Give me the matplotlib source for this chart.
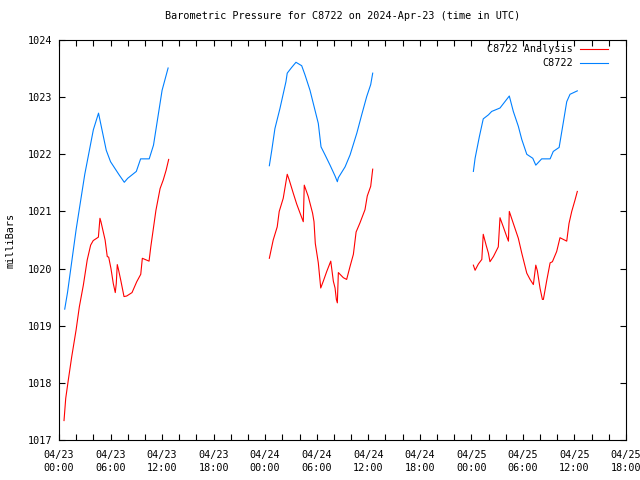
import numpy as np
import matplotlib
matplotlib.use("Agg")
import matplotlib.pyplot as plt
import matplotlib.dates as mdates

nan = np.nan

# hours since 2024-04-23 00:00 UTC; nan marks a break between runs
analysis_hours = [
    0.58, 0.78, 1.08, 1.48, 1.98, 2.36, 2.83, 3.29, 3.69, 3.99, 4.58, 4.77, 4.89,
    5.36, 5.62, 5.79, 6.05, 6.32, 6.55, 6.67, 6.79, 6.90, 7.18, 7.57, 7.88, 8.50,
    9.05, 9.51, 9.70, 10.48, 10.68, 10.98, 11.29, 11.76, 12.14, 12.46, 12.77,
    nan,
    24.48, 24.94, 25.40, 25.64, 26.10, 26.57, 26.80, 27.27, 27.67, 28.13, 28.43,
    28.55, 29.01, 29.52, 29.68, 29.83, 30.18, 30.46, 30.77, 31.16, 31.63, 31.93,
    32.13, 32.28, 32.40, 32.52, 33.10, 33.49, 33.88, 34.26, 34.58, 35.04, 35.62,
    35.89, 36.29, 36.52,
    nan,
    48.23, 48.43, 48.81, 49.21, 49.39, 49.71, 49.98, 50.17, 50.56, 51.14, 51.34,
    51.72, 52.12, 52.31, 52.42, 52.89, 53.47, 53.87, 54.45, 54.83, 55.22, 55.50,
    55.69, 56.00, 56.27, 56.38, 56.78, 57.16, 57.43, 57.94, 58.32, 59.10, 59.37,
    59.69, 60.07, 60.34,
]
analysis_mb = [
    1017.34, 1017.73, 1018.05, 1018.46, 1018.92, 1019.33, 1019.71, 1020.15,
    1020.41, 1020.49, 1020.55, 1020.88, 1020.82, 1020.50, 1020.21, 1020.20,
    1020.00, 1019.74, 1019.58, 1019.74, 1020.07, 1020.00, 1019.80, 1019.51,
    1019.52, 1019.58, 1019.77, 1019.90, 1020.18, 1020.13, 1020.38, 1020.70,
    1021.02, 1021.40, 1021.55, 1021.72, 1021.91,
    nan,
    1020.18, 1020.50, 1020.73, 1021.00, 1021.23, 1021.65, 1021.55, 1021.32,
    1021.13, 1020.94, 1020.82, 1021.46, 1021.26, 1020.97, 1020.82, 1020.44,
    1020.10, 1019.66, 1019.78, 1019.95, 1020.13, 1019.78, 1019.66, 1019.46,
    1019.40, 1019.93, 1019.84, 1019.81, 1020.04, 1020.25, 1020.64, 1020.80,
    1021.03, 1021.27, 1021.44, 1021.74,
    nan,
    1020.06, 1019.97, 1020.08, 1020.16, 1020.60, 1020.41, 1020.27, 1020.12,
    1020.21, 1020.38, 1020.89, 1020.73, 1020.56, 1020.48, 1021.00, 1020.79,
    1020.53, 1020.27, 1019.92, 1019.81, 1019.72, 1020.06, 1019.96, 1019.65,
    1019.46, 1019.46, 1019.80, 1020.10, 1020.12, 1020.30, 1020.54, 1020.48,
    1020.79, 1021.00, 1021.20, 1021.35,
]

station_hours = [
    0.66, 1.0, 2.0, 3.0, 4.0, 4.6, 5.5, 6.0, 7.0, 7.6, 8.0, 9.0, 9.5, 10.5,
    11.0, 12.0, 12.7,
    nan,
    24.48, 24.76, 25.14, 25.72, 26.42, 26.57, 27.08, 27.58, 28.25, 28.63, 29.22,
    29.80, 30.18, 30.50, 30.97, 31.55, 32.13, 32.40, 32.52, 33.30, 33.88, 34.66,
    35.24, 35.82, 36.29, 36.52,
    nan,
    48.23, 48.43, 48.93, 49.39, 49.98, 50.37, 51.34, 52.42, 52.89, 53.47, 53.87,
    54.45, 55.15, 55.50, 56.19, 57.16, 57.54, 58.21, 58.71, 59.10, 59.49, 60.34,
]
station_mb = [
    1019.29, 1019.59, 1020.69, 1021.65, 1022.43, 1022.72, 1022.07, 1021.87,
    1021.64, 1021.51, 1021.58, 1021.70, 1021.92, 1021.92, 1022.16, 1023.12,
    1023.51,
    nan,
    1021.80, 1022.07, 1022.45, 1022.80, 1023.27, 1023.42, 1023.52, 1023.61,
    1023.55, 1023.39, 1023.12, 1022.77, 1022.54, 1022.13, 1021.99, 1021.81,
    1021.62, 1021.52, 1021.59, 1021.78, 1021.99, 1022.37, 1022.69, 1023.01,
    1023.22, 1023.42,
    nan,
    1021.70, 1021.93, 1022.31, 1022.62, 1022.69, 1022.75, 1022.81, 1023.02,
    1022.75, 1022.49, 1022.26, 1022.00, 1021.93, 1021.81, 1021.92, 1021.92,
    1022.05, 1022.12, 1022.57, 1022.92, 1023.05, 1023.11,
]

start = np.datetime64("2024-04-23T00:00")


def to_times(hours):
    return [start + np.timedelta64(int(round(h * 60)), "m") if not np.isnan(h)
            else np.datetime64("NaT") for h in hours]


plt.rcParams["font.family"] = ["DejaVu Sans Mono"]
plt.rcParams["font.size"] = 7.3

fig = plt.figure(figsize=(6.4, 4.8), dpi=100)
ax = fig.add_axes([59 / 640, 1 - 440 / 480, 567 / 640, 400 / 480])

ax.plot(to_times(analysis_hours), analysis_mb, color="#ff0000", lw=0.8,
        label="C8722 Analysis")
ax.plot(to_times(station_hours), station_mb, color="#0080ff", lw=0.8,
        label="C8722")

ax.set_xlim(start, start + np.timedelta64(66, "h"))
ax.set_ylim(1017, 1024)
ax.set_yticks(range(1017, 1025))

ax.xaxis.set_major_locator(mdates.HourLocator(byhour=[0, 6, 12, 18]))
ax.xaxis.set_major_formatter(mdates.DateFormatter("%m/%d\n%H:%M"))
ax.xaxis.set_minor_locator(mdates.HourLocator(byhour=range(0, 24, 2)))

ax.tick_params(which="both", direction="in", top=True, right=True,
               length=4, width=0.8, labelsize=7.3)
ax.tick_params(axis="x", pad=7)
ax.tick_params(axis="y", pad=5)
for lbl in ax.get_xticklabels():
    lbl.set_linespacing(1.45)
for s in ax.spines.values():
    s.set_linewidth(0.8)

ax.set_title("Barometric Pressure for C8722 on 2024-Apr-23 (time in UTC)",
             fontsize=7.3, pad=15)
ax.set_ylabel("milliBars", fontsize=7.3)
ax.yaxis.set_label_coords(-0.076, 0.5)

ax.legend(loc="upper right", bbox_to_anchor=(0.975, 1.0), frameon=False,
          markerfirst=False, fontsize=7.3, handlelength=2.75,
          handletextpad=0.7, labelspacing=0.4, borderaxespad=0.0)

fig.savefig("out.png", dpi=100)
